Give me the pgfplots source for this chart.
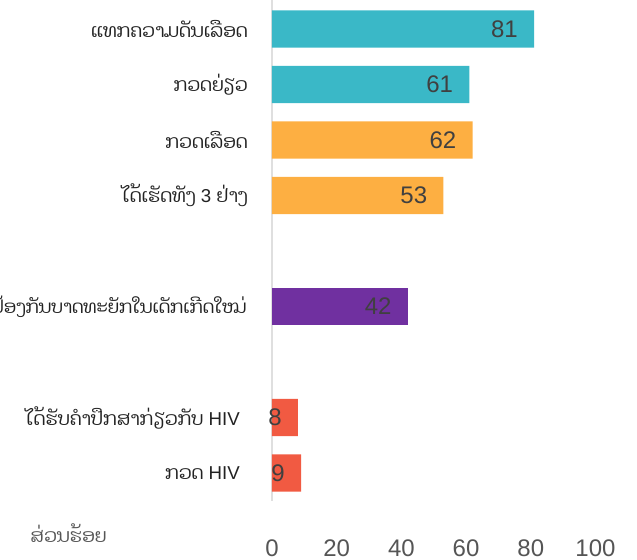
\documentclass[border=0pt]{standalone}
\usepackage{fontspec}
\setmainfont{Liberation Sans}
\newfontfamily\laofont[Script=Lao]{Dhyana}
\usepackage{pgfplots}
\pgfplotsset{compat=1.18}
\definecolor{cteal}{HTML}{3AB8C7}
\definecolor{corange}{HTML}{FDAF42}
\definecolor{cpurple}{HTML}{7030A0}
\definecolor{cred}{HTML}{F15A42}
\definecolor{valtext}{HTML}{404040}
\definecolor{ticktext}{HTML}{555555}
\definecolor{cattext}{HTML}{222222}
\newcommand{\lao}[1]{{\laofont #1}}
\begin{document}
\begin{tikzpicture}
\begin{axis}[
  x=2.42625pt, y=41.625pt,
  xmin=0, xmax=100, ymin=-0.5, ymax=8.5,
  enlargelimits=false, clip=false,
  axis line style={draw=none},
  major tick length=0pt,
  xtick={0,20,40,60,80,100},
  xticklabel style={font=\fontsize{18}{18}\selectfont, text=ticktext, anchor=center, yshift=-35.4pt},
  ytick={0,1,3,5,6,7,8},
  yticklabels={
    {\lao{ກວດ} HIV\rule{6pt}{0pt}},
    {\lao{ໄດ້ຮັບຄຳປຶກສາກ່ຽວກັບ} HIV\rule{6pt}{0pt}},
    {\fontsize{13.5}{16}\selectfont\lao{ປ້ອງກັນບາດທະຍັກໃນເດັກເກີດໃໝ່}},
    {\lao{ໄດ້ເຮັດທັງ} 3 \lao{ຢ່າງ}},
    {\lao{ກວດເລືອດ}},
    {\lao{ກວດຍ່ຽວ}},
    {\lao{ແທກຄວາມດັນເລືອດ}}},
  yticklabel style={font=\fontsize{14}{16}\selectfont, text=cattext, anchor=east, inner sep=0pt, xshift=-18pt},
  /pgf/number format/assume math mode=true,
  xbar, bar width=28.1pt, bar shift=0pt,
  nodes near coords,
  nodes near coords style={font=\fontsize{18}{18}\selectfont, text=valtext, anchor=east, inner sep=0pt, xshift=-12pt},
]
\draw[gray!25, line width=1pt] (axis cs:0,8.6) -- (axis cs:0,-0.5);
\addplot[fill=cteal, draw=none] coordinates {(81,8) (61,7)};
\addplot[fill=corange, draw=none] coordinates {(62,6) (53,5)};
\addplot[fill=cpurple, draw=none] coordinates {(42,3)};
\addplot[fill=cred, draw=none] coordinates {(8,1) (9,0)};
\node[anchor=west, inner sep=0pt, text=ticktext, font=\fontsize{14}{16}\selectfont] at (axis cs:-74.8,-1.081) {\lao{ສ່ວນຮ້ອຍ}};
\coordinate (bbsw) at (axis cs:-84.08,-1.5676);
\coordinate (bbne) at (axis cs:112.83,8.5225);
\end{axis}
\pgfresetboundingbox
\useasboundingbox (bbsw) rectangle (bbne);
\end{tikzpicture}
\end{document}
